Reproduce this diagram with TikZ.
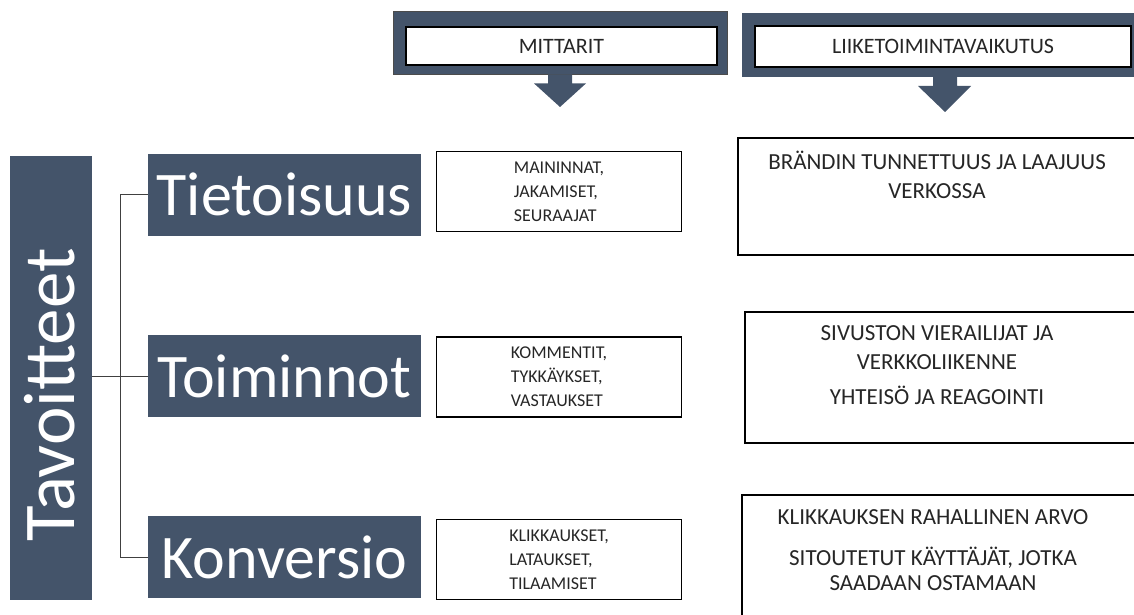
\documentclass[tikz,border=0pt]{standalone}
\usepackage{fontspec}
\setmainfont{Carlito}
\usetikzlibrary{calc,positioning}
\definecolor{slate}{HTML}{44546A}

\begin{document}
\begin{tikzpicture}[x=1pt,y=-1pt,
    goal/.style={fill=slate,text=white,inner sep=0pt,minimum width=273pt,minimum height=82pt,font=\fontsize{62}{62}\selectfont},
    metric/.style={draw=black,line width=1.2pt,inner sep=0pt,minimum width=245pt,minimum height=80pt,align=left,text=black!85,font=\fontsize{18}{24}\selectfont},
    impactbox/.style={draw=black,line width=1.3pt,inner sep=0pt},
    impacttext/.style={align=center,text=black!85,font=\fontsize{23}{29}\selectfont},
    headframe/.style={fill=slate,draw=black!70,line width=0.8pt,inner sep=0pt},
    headlabel/.style={fill=white,draw=black,line width=1.2pt,inner sep=0pt,text=black!85,font=\fontsize{22}{22}\selectfont}]
  \useasboundingbox (0,0) rectangle (1134,615);
  \clip (0,0) rectangle (1134,615);

  % column headers
  \node[headframe,minimum width=334pt,minimum height=63pt] (mhead) at (560,42.5) {};
  \node[headlabel,minimum width=311pt,minimum height=38pt] (mlabel) at (561.5,46) {MITTARIT};
  \fill[slate] ($(mhead.south)+(-12,0)$) -- ++(0,9) -- ++(-14,0) -- (560,107) -- ($(mhead.south)+(26,9)$) -- ++(-14,0) -- ++(0,-9) -- cycle;

  \node[headframe,draw=none,minimum width=408pt,minimum height=64pt] (lhead) at (946,45) {};
  \node[headlabel,minimum width=376pt,minimum height=41pt] (llabel) at (943,46.5) {LIIKETOIMINTAVAIKUTUS};
  \fill[slate] (933,76) -- (933,86) -- (918,86) -- (945,112) -- (971,86) -- (957,86) -- (957,76) -- cycle;

  % goals
  \node[fill=slate,inner sep=0pt,minimum width=82pt,minimum height=444pt] (goalbox) at (51,378) {};
  \node[rotate=90,text=white,font=\fontsize{73}{73}\selectfont] (goaltext) at (50,395) {Tavoitteet};

  \node[goal] (tiet) at (284.5,194.5) {Tietoisuus};
  \node[goal] (toim) at (284.5,376) {Toiminnot};
  \node[goal] (konv) at (284.5,557) {Konversio};

  \coordinate (trunk) at (120,0);
  \draw[black!75,line width=0.9pt] (tiet.west) -- (trunk |- tiet.west) -- (trunk |- konv.west) -- (konv.west);
  \draw[black!75,line width=0.9pt] (goalbox.east |- toim.west) -- (toim.west);

  % metrics
  \node[metric] (mit1) at (559,191.5) {MAININNAT,\\JAKAMISET,\\SEURAAJAT};
  \node[metric] (mit2) at (559,377) {KOMMENTIT,\\TYKKÄYKSET,\\VASTAUKSET};
  \node[metric] (mit3) at (559,559.5) {KLIKKAUKSET,\\LATAUKSET,\\TILAAMISET};

  % business impact
  \node[impactbox,minimum width=412pt,minimum height=117pt] (imp1) at (944,196.5) {};
  \node[impacttext] (imp1t) at (937,175) {BRÄNDIN TUNNETTUUS JA LAAJUUS\\VERKOSSA};
  \node[impactbox,minimum width=405pt,minimum height=131pt] (imp2) at (947.5,377.5) {};
  \node[impacttext] (imp2t) at (937,365) {SIVUSTON VIERAILIJAT JA\\VERKKOLIIKENNE\\[6pt]YHTEISÖ JA REAGOINTI};
  \node[impactbox,minimum width=408pt,minimum height=135pt] (imp3) at (946,562.5) {};
  \node[impacttext] (imp3t) at (933,550) {KLIKKAUKSEN RAHALLINEN ARVO\\[12pt]SITOUTETUT KÄYTTÄJÄT, JOTKA\\[-4pt]SAADAAN OSTAMAAN};
\end{tikzpicture}
\end{document}
